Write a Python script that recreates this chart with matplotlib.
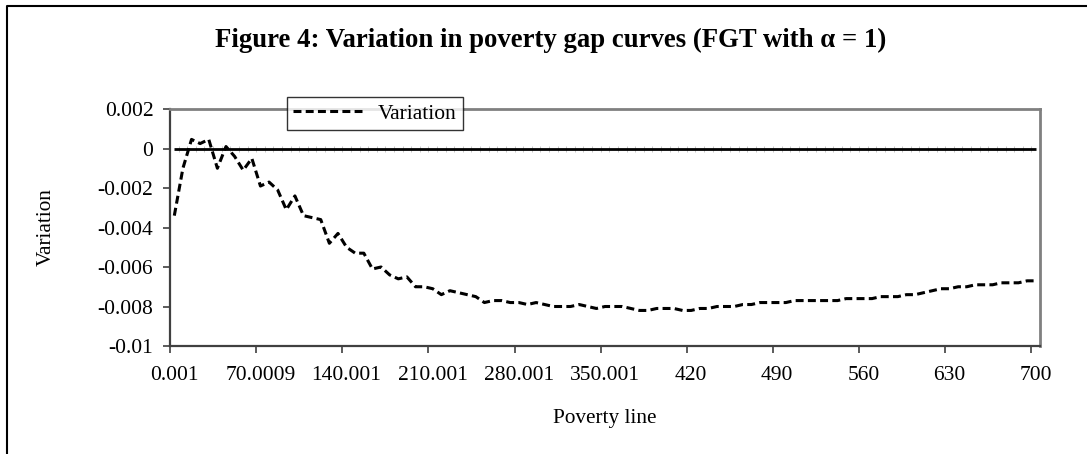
import matplotlib
matplotlib.use("Agg")
import matplotlib.pyplot as plt
from matplotlib.lines import Line2D
import numpy as np

plt.rcParams['font.family'] = ['Liberation Serif', 'DejaVu Serif']

title = "Figure 4: Variation in poverty gap curves (FGT with \u03b1 = 1)"
x_tick_labels = ["0.001", "70.0009", "140.001", "210.001", "280.001", "350.001",
                 "420", "490", "560", "630", "700"]
y_ticks = [0.002, 0, -0.002, -0.004, -0.006, -0.008, -0.01]
y_tick_labels = ["0.002", "0", "-0.002", "-0.004", "-0.006", "-0.008", "-0.01"]

variation = [
    -0.0034, -0.0010, 0.00046, 0.00025, 0.00046, -0.0010, 0.0001, -0.0004, -0.0011, -0.0005,
    -0.0019, -0.0017, -0.0021, -0.0031, -0.0024, -0.0034, -0.0035, -0.0036, -0.0048, -0.0043,
    -0.0050, -0.0053, -0.0053, -0.0061, -0.0060, -0.0064, -0.0066, -0.0065, -0.0070, -0.0070,
    -0.0071, -0.0074, -0.0072, -0.0073, -0.0074, -0.0075, -0.0078, -0.0077, -0.0077, -0.0078,
    -0.0078, -0.0079, -0.0078, -0.0079, -0.0080, -0.0080, -0.0080, -0.0079, -0.0080, -0.0081,
    -0.0080, -0.0080, -0.0080, -0.0081, -0.0082, -0.0082, -0.0081, -0.0081, -0.0081, -0.0082,
    -0.0082, -0.0081, -0.0081, -0.0080, -0.0080, -0.0080, -0.0079, -0.0079, -0.0078, -0.0078,
    -0.0078, -0.0078, -0.0077, -0.0077, -0.0077, -0.0077, -0.0077, -0.0077, -0.0076, -0.0076,
    -0.0076, -0.0076, -0.0075, -0.0075, -0.0075, -0.0074, -0.0074, -0.0073, -0.0072, -0.0071,
    -0.0071, -0.0070, -0.0070, -0.0069, -0.0069, -0.0069, -0.0068, -0.0068, -0.0068, -0.0067,
    -0.0067,
]
zero_line = [0.0] * len(variation)

W, H = 1087, 454
fig = plt.figure(figsize=(W / 100, H / 100), dpi=100)
ax = fig.add_axes([170 / W, 1 - 346 / H, (1040 - 170) / W, (346 - 109) / H])

n = len(variation)
xc = np.arange(n) + 0.5  # category centres (Excel "between tick marks")

# faint tick marks on zero line at category boundaries
ax.plot(np.arange(n + 1), np.zeros(n + 1), linestyle='none', marker='|',
        markersize=4, markeredgewidth=0.5, color='#b0b0b0', zorder=2)
ax.plot(xc, zero_line, color='black', lw=2.0, zorder=3, solid_capstyle='butt')
line, = ax.plot(xc, variation, color='black', lw=2.2, zorder=4,
                dashes=(2.6, 1.4), label='Variation')

ax.set_xlim(0, n)
ax.set_ylim(-0.01, 0.002)

ax.set_xticks(np.arange(0, n + 1, 10))
ax.set_xticklabels([])
ax.set_xticks(np.arange(0, n, 10) + 0.5, minor=True)
ax.set_xticklabels(x_tick_labels, minor=True, fontsize=15.5)
ax.tick_params(axis='x', which='major', direction='out', length=5, width=1.2, color='#404040')
ax.tick_params(axis='x', which='minor', length=0, pad=14.5)

ax.set_yticks(y_ticks)
ax.set_yticklabels(y_tick_labels, fontsize=15.5)
ax.tick_params(axis='y', direction='out', length=5, width=1.2, color='#404040', pad=7)

for s in ['left', 'bottom']:
    ax.spines[s].set_color('#404040')
    ax.spines[s].set_linewidth(1.6)
for s in ['top', 'right']:
    ax.spines[s].set_color('#808080')
    ax.spines[s].set_linewidth(2.0)

fig.text(46 / W, 1 - 227 / H, "Variation", rotation=90, fontsize=15.3,
         ha='center', va='center')
fig.text(605 / W, 1 - 418 / H, "Poverty line", fontsize=15.3, ha='center', va='center')
fig.text(551 / W, 1 - 40 / H, title, fontsize=19.3, fontweight='bold',
         ha='center', va='center')

leg = fig.legend(handles=[line], loc='lower left',
                 bbox_to_anchor=(287 / W, 1 - 130 / H), bbox_transform=fig.transFigure,
                 fontsize=15.5, frameon=True, fancybox=False, borderaxespad=0,
                 handlelength=3.2, handletextpad=0.7, borderpad=0.3)
leg.get_frame().set_edgecolor('black')
leg.get_frame().set_linewidth(1.0)

# outer frame (cropped on right and bottom)
fig.add_artist(Line2D([7 / W, 7 / W, 1.0], [0.0, 1 - 6 / H, 1 - 6 / H],
                      transform=fig.transFigure, color='black', lw=1.5))

fig.savefig("out.png", dpi=100)
